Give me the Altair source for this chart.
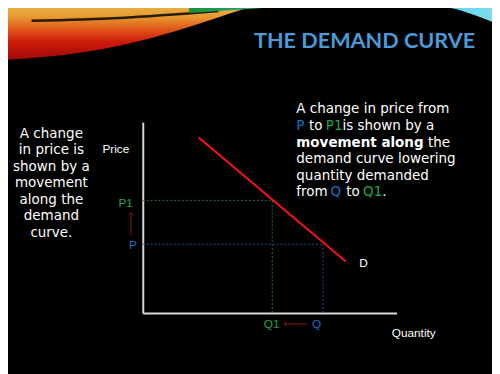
import altair as alt
import pandas as pd

# ---------------- data ----------------
# Demand curve end points (quantity, price)
demand_q = [2.2, 8.0]
demand_p = [9.2, 2.7]

# price / quantity levels
level_names = ["P", "P1"]
price_values = [3.6, 5.9]
qty_names = ["Q", "Q1"]
qty_values = [7.1, 5.1]
guide_colors = ["#1f4f8f", "#1d7a3e"]

BLUE = "#1a6fc0"
GREEN = "#1fa64f"
WHITE = "#ffffff"
ARROW = "#8b1a1a"

title_text = "THE DEMAND CURVE"
left_text = "A change\nin price is\nshown by a\nmovement\nalong the\ndemand\ncurve."

# right-hand explanation: (q, p, text, colour)
right_q = [6.05, 6.05, 6.55, 7.21, 7.87, 11.24, 6.05, 6.05, 6.05, 7.40, 8.02, 8.68, 9.44]
right_p = [10.46, 9.59, 9.59, 9.59, 9.59, 8.71, 7.84, 6.98, 6.13, 6.13, 6.13, 6.13, 6.13]
right_txt = ["A change in price from", "P", "to", "P1", "is shown by a", "the",
             "demand curve lowering", "quantity demanded", "from", "Q", "to", "Q1", "."]
right_col = [WHITE, BLUE, WHITE, GREEN, WHITE, WHITE, WHITE, WHITE, WHITE, BLUE, WHITE, GREEN, WHITE]
bold_txt = ["movement along"]
bold_q = [6.05]
bold_p = [8.71]

# axis annotations
lab_txt = ["P1", "P"]
lab_q = [-0.39, -0.23]
lab_p = [5.57, 3.35]
lab_col = [GREEN, BLUE]
lab2_txt = ["Price", "Q1", "Q", "D", "Quantity"]
lab2_q = [-1.59, 4.77, 6.67, 8.53, 9.81]
lab2_p = [8.40, -0.77, -0.77, 2.42, -1.24]
lab2_col = [WHITE, GREEN, BLUE, WHITE, WHITE]

# arrows (tail -> tip)
arrow_q = [-0.465, 6.47]
arrow_p = [4.07, -0.57]
arrow_q2 = [-0.465, 5.58]
arrow_p2 = [5.26, -0.57]
arrow_shape = ["M -1 1 L 0 0 L 1 1", "M 1 -1 L 0 0 L 1 1"]

# decorative swirl (lower edges)
warm_q = [-5.54, -3.60, -1.67, 0.27, 2.21, 3.37, 4.34]
warm_p = [13.25, 13.45, 13.81, 14.38, 15.15, 15.67, 16.08]
teal_q = [1.82, 4.15, 6.86, 9.96, 11.9, 13.06, 13.84]
teal_p = [15.72, 15.93, 16.13, 16.19, 16.03, 15.62, 15.21]
streak_q = [-4.38, -0.89, 2.98]
streak_p = [15.31, 15.46, 15.82]
TOP = 16.6

# ---------------- helpers ----------------
SX = alt.Scale(domain=[0, 10], nice=False, zero=False)
SY = alt.Scale(domain=[0, 10], nice=False, zero=False)
AX = alt.Axis(domainColor="#d9d9d9", domainWidth=2, ticks=False, labels=False,
              grid=False, title=None)


def X(f):
    return alt.X(f, type="quantitative", scale=SX, axis=AX)


def Y(f):
    return alt.Y(f, type="quantitative", scale=SY, axis=AX)


# ---------------- layers ----------------
warm_df = pd.DataFrame({"q": warm_q, "p": warm_p, "top": [TOP] * len(warm_q)})
warm_grad = alt.Gradient(
    gradient="linear",
    stops=[alt.GradientStop(color="#e6c85e", offset=0),
           alt.GradientStop(color="#e69a30", offset=0.32),
           alt.GradientStop(color="#e0561a", offset=0.52),
           alt.GradientStop(color="#cc1a0a", offset=0.72),
           alt.GradientStop(color="#a00808", offset=1)],
    x1=0, x2=0, y1=0, y2=1)
warm = alt.Chart(warm_df).mark_area(color=warm_grad, interpolate="monotone").encode(
    x=X("q"), y=Y("p"), y2="top")

teal_df = pd.DataFrame({"q": teal_q, "p": teal_p, "top": [TOP] * len(teal_q)})
teal_grad = alt.Gradient(
    gradient="linear",
    stops=[alt.GradientStop(color="#1e8f3c", offset=0),
           alt.GradientStop(color="#22b89a", offset=0.35),
           alt.GradientStop(color="#30d6ea", offset=0.7),
           alt.GradientStop(color="#7fdceb", offset=1)],
    x1=0, x2=1, y1=0, y2=0)
teal = alt.Chart(teal_df).mark_area(color=teal_grad, interpolate="monotone").encode(
    x=X("q"), y=Y("p"), y2="top")

streak_df = pd.DataFrame({"q": streak_q, "p": streak_p})
streak = alt.Chart(streak_df).mark_line(color="#2a1a05", strokeWidth=2.5,
                                        interpolate="monotone").encode(x=X("q"), y=Y("p"))

guide_rows = []
for name, pv, qv, c in zip(level_names, price_values, qty_values, guide_colors):
    guide_rows.append({"q": 0, "p": pv, "q2": qv, "p2": pv, "c": c})
    guide_rows.append({"q": qv, "p": 0, "q2": qv, "p2": pv, "c": c})
guides = alt.Chart(pd.DataFrame(guide_rows)).mark_rule(
    strokeDash=[2, 2], strokeWidth=1).encode(
    x=X("q"), y=Y("p"), x2="q2", y2="p2", color=alt.Color("c:N", scale=None))

demand = alt.Chart(pd.DataFrame({"q": demand_q, "p": demand_p})).mark_line(
    color="#ff1010", strokeWidth=2).encode(x=X("q"), y=Y("p"))

arrows_df = pd.DataFrame({"q": arrow_q, "p": arrow_p, "q2": arrow_q2, "p2": arrow_p2,
                          "shape": arrow_shape})
shafts = alt.Chart(arrows_df).mark_rule(color=ARROW, strokeWidth=1).encode(
    x=X("q"), y=Y("p"), x2="q2", y2="p2")
heads = alt.Chart(arrows_df).mark_point(color=ARROW, filled=False, strokeWidth=1,
                                        size=30, opacity=1).encode(
    x=X("q2"), y=Y("p2"), shape=alt.Shape("shape:N", scale=None))

title = alt.Chart(pd.DataFrame({"q": [4.38], "p": [13.87], "t": [title_text]})).mark_text(
    font="Lato", fontWeight="bold", fontSize=22, color="#4a9ad8", align="left",
    baseline="alphabetic").encode(x=X("q"), y=Y("p"), text="t:N")

left = alt.Chart(pd.DataFrame({"q": [-3.60], "p": [9.18], "t": [left_text]})).mark_text(
    font="DejaVu Sans", fontSize=13.7, color=WHITE, align="center", baseline="alphabetic",
    lineBreak="\n", lineHeight=16.8).encode(x=X("q"), y=Y("p"), text="t:N")

right = alt.Chart(pd.DataFrame({"q": right_q, "p": right_p, "t": right_txt,
                                "c": right_col})).mark_text(
    font="DejaVu Sans", fontSize=13.7, align="left", baseline="alphabetic").encode(
    x=X("q"), y=Y("p"), text="t:N", color=alt.Color("c:N", scale=None))

bold = alt.Chart(pd.DataFrame({"q": bold_q, "p": bold_p, "t": bold_txt})).mark_text(
    font="DejaVu Sans", fontWeight="bold", fontSize=13.7, color=WHITE, align="left",
    baseline="alphabetic").encode(x=X("q"), y=Y("p"), text="t:N")

labs_r = alt.Chart(pd.DataFrame({"q": lab_q, "p": lab_p, "t": lab_txt,
                                 "c": lab_col})).mark_text(
    font="Liberation Sans", fontSize=12, align="right", baseline="alphabetic").encode(
    x=X("q"), y=Y("p"), text="t:N", color=alt.Color("c:N", scale=None))

labs_l = alt.Chart(pd.DataFrame({"q": lab2_q, "p": lab2_p, "t": lab2_txt,
                                 "c": lab2_col})).mark_text(
    font="Liberation Sans", fontSize=12, align="left", baseline="alphabetic").encode(
    x=X("q"), y=Y("p"), text="t:N", color=alt.Color("c:N", scale=None))

chart = alt.layer(
    warm, streak, teal, guides, demand, shafts, heads,
    title, left, right, bold, labs_r, labs_l
).properties(
    width=258, height=194,
    padding={"left": 137, "top": 113, "right": 97, "bottom": 59},
    autosize="none",
    background="#000000",
).configure_view(strokeWidth=0)

chart.save("out.html", embed_options={"renderer": "svg", "actions": False})
